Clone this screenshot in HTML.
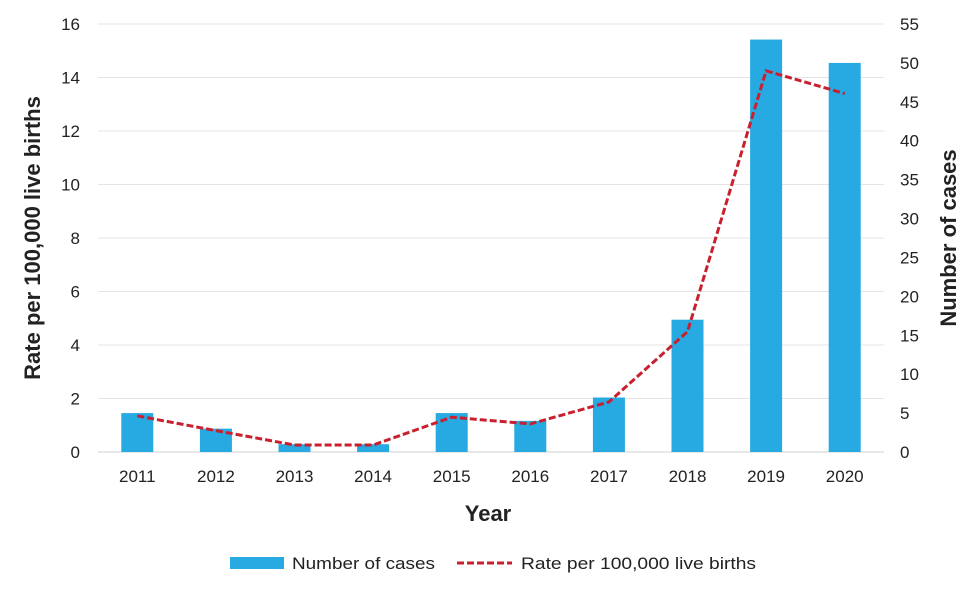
<!DOCTYPE html>
<html><head><meta charset="utf-8"><style>
body{margin:0;background:#fff;font-family:"Liberation Sans",sans-serif;}
svg text{font-family:"Liberation Sans",sans-serif;fill:#222;}
</style></head><body>
<svg width="980" height="592">
<g id="grid"></g><g id="bars"></g><g id="line"></g><g id="axes"></g>
<text x="488" y="521" text-anchor="middle" font-size="22" font-weight="bold">Year</text>
<text transform="translate(40,238) rotate(-90)" text-anchor="middle" font-size="22" font-weight="bold">Rate per 100,000 live births</text>
<text transform="translate(956,238) rotate(-90)" text-anchor="middle" font-size="22" font-weight="bold">Number of cases</text>
<g>
<rect x="230" y="557" width="54" height="12" fill="#27a9e1"></rect>
<text x="292" y="569" font-size="17" textLength="143" lengthAdjust="spacingAndGlyphs">Number of cases</text>
<line x1="457" y1="563" x2="512" y2="563" stroke="#c8202f" stroke-width="3" stroke-dasharray="7,3"></line>
<text x="521" y="569" font-size="17" textLength="235" lengthAdjust="spacingAndGlyphs">Rate per 100,000 live births</text>
</g>
</svg>
<script>
const years=["2011","2012","2013","2014","2015","2016","2017","2018","2019","2020"];
const cases=[5,3,1,1,5,4,7,17,53,50];
const rates=[1.35,0.8,0.26,0.26,1.3,1.05,1.87,4.5,14.25,13.4];
const leftTicks=[0,2,4,6,8,10,12,14,16];
const rightTicks=[0,5,10,15,20,25,30,35,40,45,50,55];
const NS="http://www.w3.org/2000/svg";
const x0=98,x1=884,yb=452,yt=24;
const bw=(x1-x0)/years.length;
const xc=i=>x0+bw*(i+0.5);
const yl=v=>yb-(v/16)*(yb-yt);
const yr=v=>yb-(v/55)*(yb-yt);
function mk(t,a,p){const e=document.createElementNS(NS,t);for(const k in a)e.setAttribute(k,a[k]);p.appendChild(e);return e;}
const grid=document.getElementById('grid'),axes=document.getElementById('axes');
leftTicks.forEach(v=>{
 const l=mk('line',{x1:x0,x2:x1,y1:yl(v),y2:yl(v),stroke:v===0?'#d0d0d0':'#e4e4e4','stroke-width':1},grid);
 
 
 const t=mk('text',{x:80,y:yl(v)+6,'text-anchor':'end','font-size':17},axes);t.textContent=v;
 
 
});
rightTicks.forEach(v=>{
 const t=mk('text',{x:900,y:yr(v)+6,'font-size':17},axes);t.textContent=v;
 
 
});
const bars=document.getElementById('bars');
years.forEach((y,i)=>{
 const r=mk('rect',{x:xc(i)-16,y:yr(cases[i]),width:32,height:yb-yr(cases[i]),fill:'#27a9e1'},bars);
 
 
 const t=mk('text',{x:xc(i),y:482,'text-anchor':'middle','font-size':17},axes);t.textContent=y;
 
 
});
const pl=mk('polyline',{points:rates.map((v,i)=>xc(i)+','+yl(v)).join(' '),fill:'none',stroke:'#c8202f','stroke-width':3,'stroke-dasharray':'7,3'},document.getElementById('line'));


</script>
</body></html>
